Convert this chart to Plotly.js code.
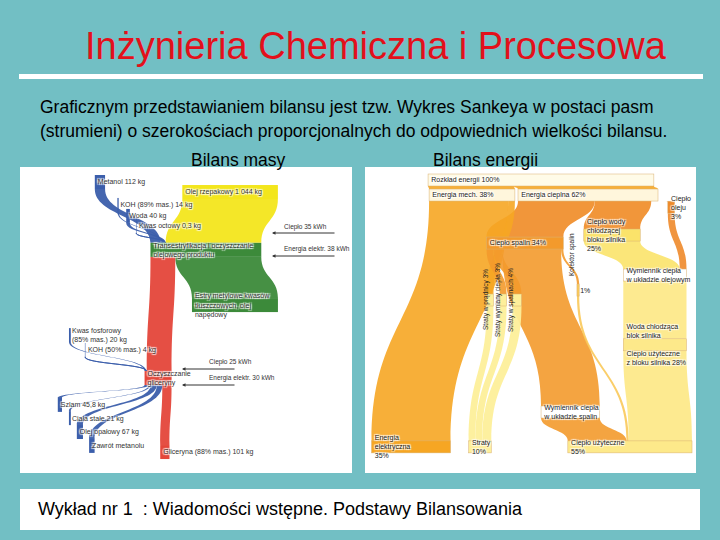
<!DOCTYPE html>
<html><head><meta charset="utf-8">
<script src="https://cdn.plot.ly/plotly-3.0.1.min.js"></script>
<style>html,body{margin:0;padding:0;background:#72bfc4}#c{width:720px;height:540px}</style>
</head><body><div id="c"></div>
<script>
// ---- Bilans masy ----
const massLabels = ["Metanol 112 kg","KOH (89% mas.) 14 kg","Woda 40 kg","Kwas octowy 0,3 kg","Olej rzepakowy 1 044 kg",
  "Transestryfikacja i oczyszczanie<br>olejowego produktu","Kwas fosforowy<br>(85% mas.) 20 kg","KOH (50% mas.) 4 kg",
  "Oczyszczanie<br>gliceryny","Estry metylowe kwasów<br>tłuszczowych, olej<br>napędowy",
  "Gliceryna (88% mas.) 101 kg","Szlam 45,8 kg","Ciała stałe 21 kg","Olej opałowy 67 kg","Zawrót metanolu"];
const massSource = [0,1,2,3,4,5,5,6,7,8,8,8,8,8];
const massTarget = [5,5,5,5,5,9,8,8,8,10,11,12,13,14];
const massValue  = [112,14,40,0.3,1044,939,271,20,4,101,45.8,21,67,60];
const massEnergy = ["Ciepło 35 kWh","Energia elektr. 38 kWh","Ciepło 25 kWh","Energia elektr. 30 kWh"];
const massFlowPos  = [0.031,0.102,0.136,0.167,0.062,0.241,0.505,0.551,0.638,0.412,0.867,0.721,0.762,0.805,0.848];
const massCrossPos = [0.232,0.288,0.319,0.344,0.635,0.56,0.139,0.186,0.412,0.65,0.433,0.108,0.139,0.170,0.207];

// ---- Bilans energii ----
const enLabels = ["Rozkład energii 100%","Energia mech. 38%","Energia cieplna 62%","Ciepło<br>oleju<br>3%",
  "Ciepło spalin 34%","Ciepło wody<br>chłodzącej<br>bloku silnika<br>25%","Energia<br>elektryczna<br>35%",
  "","","","1%",
  "Wymiennik ciepła<br>w układzie spalin","Wymiennik ciepła<br>w układzie olejowym",
  "Woda chłodząca<br>blok silnika<br><br>Ciepło użyteczne<br>z bloku silnika 28%","Straty<br>10%","Ciepło użyteczne<br>55%"];
const enStripLabels = ["Straty w prądnicy 3%","Straty wymiany ciepła 3%","Straty w spalinach 4%","Kolektor spalin"];
const enSource = [0,0,2,2,2,1,1,4,4,4,4,5,3,12,7,8,9,10,11,13];
const enTarget = [1,2,3,4,5,6,7,8,9,10,11,12,12,13,14,14,14,15,15,15];
const enValue  = [38,62,3,34,25,35,3,3,4,1,26,25,3,28,3,3,4,1,26,28];
const enFlowPos  = [0.025,0.072,0.072,0.11,0.222,0.197,0.859,0.4,0.4,0.4,0.369,0.75,0.322,0.54,0.859,0.859];
const enCrossPos = [0.528,0.3125,0.675,0.935,0.478,0.75,0.122,0.369,0.41,0.453,0.644,0.62,0.884,0.884,0.3375,0.806];

const BLUE="#3b5eab", YEL="#f3e61c", GRN="#3c8a3a", RED="#e4463a";
const massNodeColor=[BLUE,BLUE,BLUE,BLUE,YEL,GRN,BLUE,BLUE,RED,GRN,RED,BLUE,BLUE,BLUE,BLUE];
const massLinkColor=massSource.map((s,i)=>{const t=massTarget[i]; if(s===4)return "rgba(243,230,28,0.95)"; if(s===5&&t===9)return "rgba(60,138,58,0.95)"; if(s===5)return "rgba(228,70,58,0.95)"; if(s===8&&t===10)return "rgba(228,70,58,0.95)"; return "rgba(59,94,171,0.95)";});

const enNodeColor=["#fffbe8","#fff6dc","#fff6dc","#ee8a2a","#f39a2c","#fbe36a","#f6a623","#fdef9a","#fdef9a","#fdef9a","#f9c95a","#fff","#fff","#fde98a","#fdef9a","#fde98a"];
const enLinkColor=enSource.map(s=>{const c=["rgba(246,166,35,0.9)","rgba(246,166,35,0.9)","rgba(240,139,37,0.9)","rgba(238,138,42,0.9)","rgba(243,154,44,0.9)","rgba(251,227,106,0.9)","","rgba(253,239,154,0.95)","rgba(253,239,154,0.95)","rgba(253,239,154,0.95)","rgba(249,201,90,0.9)","rgba(243,154,44,0.9)","rgba(253,233,138,0.95)","rgba(253,233,138,0.95)"];return c[s];});

const data=[{
  type:"sankey", orientation:"v", arrangement:"fixed", domain:{x:[25/720,348/720],y:[1-495/540,1-172/540]},
  node:{label:massLabels, color:massNodeColor, x:massFlowPos, y:massCrossPos, pad:35, thickness:14, line:{width:0}},
  link:{source:massSource,target:massTarget,value:massValue,color:massLinkColor},
  textfont:{family:"Arial",size:7,color:"#333"}
},{
  type:"sankey", orientation:"v", arrangement:"fixed", domain:{x:[372/720,692/720],y:[1-492/540,1-172/540]},
  node:{label:enLabels, color:enNodeColor, x:enFlowPos, y:enCrossPos, pad:45, thickness:12, line:{width:0.5,color:"#d9b070"}},
  link:{source:enSource,target:enTarget,value:enValue,color:enLinkColor},
  textfont:{family:"Arial",size:7,color:"#222"}
}];

const A=(t,x,y,o)=>Object.assign({text:t,x:x/720,y:1-y/540,xref:"paper",yref:"paper",showarrow:false,yanchor:"middle"},o);
const R=(t,x,y)=>A(t,x,y,{textangle:-90,font:{family:"Arial",size:6.5,color:"#222"}});
const AR=(x,y,len)=>({x:x/720,y:1-y/540,xref:"paper",yref:"paper",ax:(x+len)/720,ay:1-y/540,axref:"paper",ayref:"paper",showarrow:true,arrowhead:2,arrowsize:0.7,arrowwidth:1,arrowcolor:"#333",text:""});
const layout={width:720,height:540,margin:{l:0,r:0,t:0,b:0},paper_bgcolor:"#72bfc4",
  shapes:[
    {type:"rect",xref:"paper",yref:"paper",x0:19/720,x1:703/720,y0:1-79/540,y1:1-74/540,fillcolor:"#fff",line:{width:0}},
    {type:"rect",xref:"paper",yref:"paper",x0:20/720,x1:352/720,y0:1-473/540,y1:1-167/540,fillcolor:"#fff",line:{width:0},layer:"below"},
    {type:"rect",xref:"paper",yref:"paper",x0:365/720,x1:696/720,y0:1-473/540,y1:1-167/540,fillcolor:"#fff",line:{width:0},layer:"below"},
    {type:"rect",xref:"paper",yref:"paper",x0:20/720,x1:700/720,y0:1-530/540,y1:1-489/540,fillcolor:"#fff",line:{width:0}}
  ],
  annotations:[
    A("Inżynieria Chemiczna i Procesowa",376,46,{font:{family:"Arial",size:38,color:"#e3101b"}}),
    A("Graficznym przedstawianiem bilansu jest tzw. Wykres Sankeya w postaci pasm",38,107,{xanchor:"left",font:{family:"Arial",size:17.5,color:"#000"}}),
    A("(strumieni) o szerokościach proporcjonalnych do odpowiednich wielkości bilansu.",38,131,{xanchor:"left",font:{family:"Arial",size:17.5,color:"#000"}}),
    A("Bilans masy",189,160,{font:{family:"Arial",size:17.5,color:"#000"}}),
    A("Bilans energii",540,160,{font:{family:"Arial",size:17.5,color:"#000"}}),
    A("Wykład nr 1  : Wiadomości wstępne. Podstawy Bilansowania",36,509,{xanchor:"left",font:{family:"Arial",size:18,color:"#000"}}),
    A(massEnergy[0],282,227,{xanchor:"left",font:{family:"Arial",size:6.5,color:"#333"}}),
    A(massEnergy[1],282,249,{xanchor:"left",font:{family:"Arial",size:6.5,color:"#333"}}),
    A(massEnergy[2],207,362,{xanchor:"left",font:{family:"Arial",size:6.5,color:"#333"}}),
    A(massEnergy[3],207,378,{xanchor:"left",font:{family:"Arial",size:6.5,color:"#333"}}),
    AR(272,233,64),AR(272,256,64),AR(182,369,54),AR(182,385,54),
    R(enStripLabels[0],492,300),R(enStripLabels[1],504,300),R(enStripLabels[2],517,300),R(enStripLabels[3],578,255)
  ]
};
Plotly.newPlot("c",data,layout,{displayModeBar:false,staticPlot:true});
</script></body></html>
